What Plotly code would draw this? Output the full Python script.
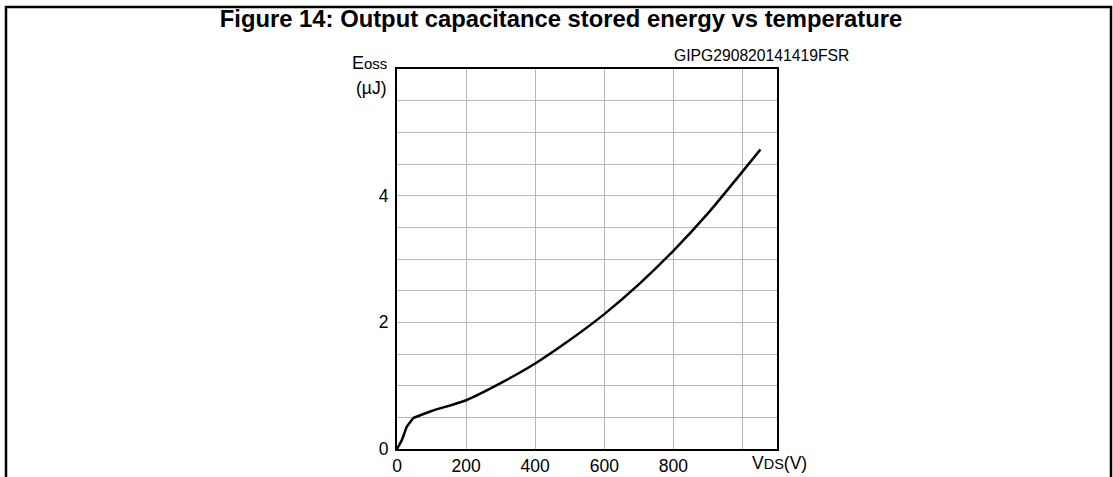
import plotly.graph_objects as go

# Data
vds = [0, 14, 28, 47, 100, 200, 300, 400, 500, 600, 700, 800, 900, 1000, 1052]
eoss = [0, 0.14, 0.35, 0.49, 0.60, 0.77, 1.04, 1.35, 1.72, 2.13, 2.60, 3.13, 3.72, 4.38, 4.73]
KNEE = 3  # index of the knee where the steep start meets the smooth curve

x_tickvals = [0, 200, 400, 600, 800, 1000]
x_ticktext = ["0", "200", "400", "600", "800", ""]
y_tickvals = [0, 0.5, 1, 1.5, 2, 2.5, 3, 3.5, 4, 4.5, 5, 5.5]
y_ticktext = ["0", "", "", "", "2", "", "", "", "4", "", "", ""]

FONT = "Liberation Sans, Arial, Helvetica, sans-serif"

W, H = 1113, 477
L, R, T, B = 397, 336, 69, 28
PW = W - L - R
PH = H - T - B


def px_x(p):
    return (p - L) / PW


def px_y(p):
    return (H - B - p) / PH


fig = go.Figure()
fig.add_trace(go.Scatter(x=vds[:KNEE + 1], y=eoss[:KNEE + 1], mode="lines",
                         line=dict(color="black", width=2.5),
                         showlegend=False, hoverinfo="skip"))
fig.add_trace(go.Scatter(x=vds[KNEE:], y=eoss[KNEE:], mode="lines",
                         line=dict(color="black", width=2.5, shape="spline", smoothing=0.8),
                         showlegend=False, hoverinfo="skip"))

fig.update_layout(
    template="none",
    width=W, height=H,
    margin=dict(l=L, r=R, t=T, b=B, pad=0, autoexpand=False),
    paper_bgcolor="white", plot_bgcolor="white",
    font=dict(family=FONT, color="black", size=17.5),
    title=dict(text="<b>Figure 14: Output capacitance stored energy vs temperature</b>",
               x=561 / W, xanchor="center", xref="container",
               y=1 - 19 / H, yanchor="middle", yref="container",
               font=dict(family=FONT, size=23.8, color="black")),
    xaxis=dict(range=[0, 1100], tickvals=x_tickvals, ticktext=x_ticktext,
               showgrid=True, gridcolor="#b8b8b8", gridwidth=1,
               showline=True, linecolor="black", linewidth=2, mirror=True,
               ticks="", zeroline=False, tickfont=dict(size=17.5),
               ticklabelstandoff=0, automargin=False),
    yaxis=dict(range=[0, 6], tickvals=y_tickvals, ticktext=y_ticktext,
               showgrid=True, gridcolor="#b8b8b8", gridwidth=1,
               showline=True, linecolor="black", linewidth=2, mirror=True,
               ticks="", zeroline=False, tickfont=dict(size=17.5),
               ticklabelstandoff=3, automargin=False),
)

fig.add_annotation(text="V<span style='font-size:14.5px'>DS</span>(V)",
                   xref="paper", x=px_x(779), yref="paper", y=px_y(463),
                   xanchor="center", yanchor="middle", showarrow=False,
                   font=dict(size=17.5))
fig.add_annotation(text="E<span style='font-size:15px'>oss</span>",
                   xref="paper", x=px_x(389), yref="paper", y=px_y(63),
                   xanchor="right", yanchor="middle", showarrow=False,
                   font=dict(size=18))
fig.add_annotation(text="(µJ)",
                   xref="paper", x=px_x(389), yref="paper", y=px_y(88),
                   xanchor="right", yanchor="middle", showarrow=False,
                   font=dict(size=17.5))
fig.add_annotation(text="GIPG290820141419FSR",
                   xref="paper", x=px_x(761), yref="paper", y=px_y(55),
                   xanchor="center", yanchor="middle", showarrow=False,
                   font=dict(size=15.7))

# outer frame (open at bottom: extends past the page edge)
fig.add_shape(type="rect", xref="paper", yref="paper",
              x0=px_x(6), x1=px_x(1111), y0=px_y(520), y1=px_y(7),
              line=dict(color="black", width=2.5), fillcolor="rgba(0,0,0,0)",
              layer="above")

fig.write_html("out.html", config={"displayModeBar": False},
               post_script="document.body.style.margin='0px';document.body.style.overflow='hidden';")
